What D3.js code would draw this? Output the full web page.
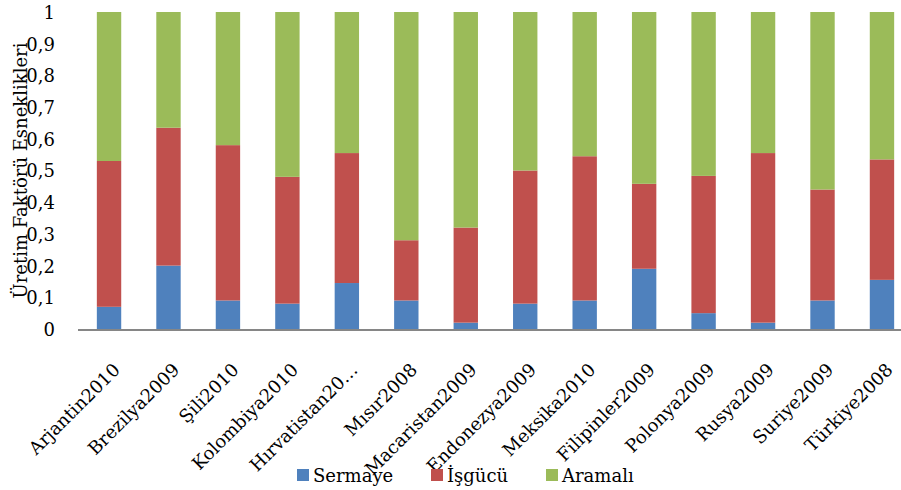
<!DOCTYPE html>
<html>
<head>
<meta charset="utf-8">
<script src="https://cdn.jsdelivr.net/npm/d3@7"></script>
<style>
  html, body { margin: 0; padding: 0; background: #fff; }
  svg { display: block; }
  text { font-family: "DejaVu Serif", serif; fill: #000; }
</style>
</head>
<body>
<script>
const categories = ["Arjantin2010", "Brezilya2009", "Şili2010", "Kolombiya2010", "Hırvatistan20…", "Mısır2008", "Macaristan2009", "Endonezya2009", "Meksika2010", "Filipinler2009", "Polonya2009", "Rusya2009", "Suriye2009", "Türkiye2008"];
const sermaye = [0.07, 0.20, 0.09, 0.08, 0.145, 0.09, 0.02, 0.08, 0.09, 0.19, 0.05, 0.02, 0.09, 0.155];
const isgucu  = [0.46, 0.435, 0.49, 0.40, 0.41, 0.19, 0.30, 0.42, 0.455, 0.268, 0.433, 0.535, 0.35, 0.38];
const aramali = [0.47, 0.365, 0.42, 0.52, 0.445, 0.72, 0.68, 0.50, 0.455, 0.542, 0.517, 0.445, 0.56, 0.465];
const seriesNames = ["Sermaye", "İşgücü", "Aramalı"];
const seriesColors = ["#4F81BD", "#C0504D", "#9BBB59"];
const yTicks = [0, 0.1, 0.2, 0.3, 0.4, 0.5, 0.6, 0.7, 0.8, 0.9, 1];
const yTitle = "Üretim Faktörü Esneklikleri";

const W = 901, H = 490;
const svg = d3.select("body").append("svg").attr("width", W).attr("height", H);

const table = categories.map((c, i) => ({ cat: c, Sermaye: sermaye[i], "İşgücü": isgucu[i], "Aramalı": aramali[i] }));
const stacked = d3.stack().keys(seriesNames)(table);

const x = d3.scaleBand().domain(categories).range([79.3, 911.7]).paddingInner(0.59).paddingOuter(0.295);
const y = d3.scaleLinear().domain([0, 1]).range([329, 12]);

// bars
svg.append("g").selectAll("g").data(stacked).join("g")
  .attr("fill", (d, i) => seriesColors[i])
  .selectAll("rect").data(d => d).join("rect")
  .attr("x", d => x(d.data.cat))
  .attr("width", x.bandwidth())
  .attr("y", d => y(d[1]))
  .attr("height", d => y(d[0]) - y(d[1]));

// y axis (labels only)
const yAxis = d3.axisLeft(y).tickValues(yTicks).tickSize(0).tickPadding(0)
  .tickFormat(d => d3.format("~g")(d).replace(".", ","));
const gy = svg.append("g").attr("transform", "translate(55,0)").call(yAxis);
gy.select(".domain").remove();
gy.selectAll("text").style("font-family", "DejaVu Serif, serif").style("font-size", "18px").attr("fill", "#000").attr("dy", "0.36em");

// x axis line
svg.append("line").attr("x1", 78).attr("x2", W).attr("y1", 330).attr("y2", 330)
  .attr("stroke", "#868686").attr("stroke-width", 2);

// x labels
svg.append("g").selectAll("text").data(categories).join("text")
  .attr("transform", d => `translate(${x(d) + x.bandwidth() / 2 + 12},371) rotate(-45)`)
  .attr("text-anchor", "end")
  .style("font-size", "18px")
  .text(d => d);

// y title
svg.append("text")
  .attr("transform", "translate(27,170.5) rotate(-90)")
  .attr("text-anchor", "middle")
  .style("font-size", "18px")
  .text(yTitle);

// legend
const legendX = [297, 431, 546];
const lg = svg.append("g").selectAll("g").data(seriesNames).join("g")
  .attr("transform", (d, i) => `translate(${legendX[i]},469)`);
lg.append("rect").attr("width", 12).attr("height", 12).attr("fill", (d, i) => seriesColors[i]);
lg.append("text").attr("x", 16).attr("y", 12.5).style("font-size", "18px").text(d => d);
</script>
</body>
</html>
